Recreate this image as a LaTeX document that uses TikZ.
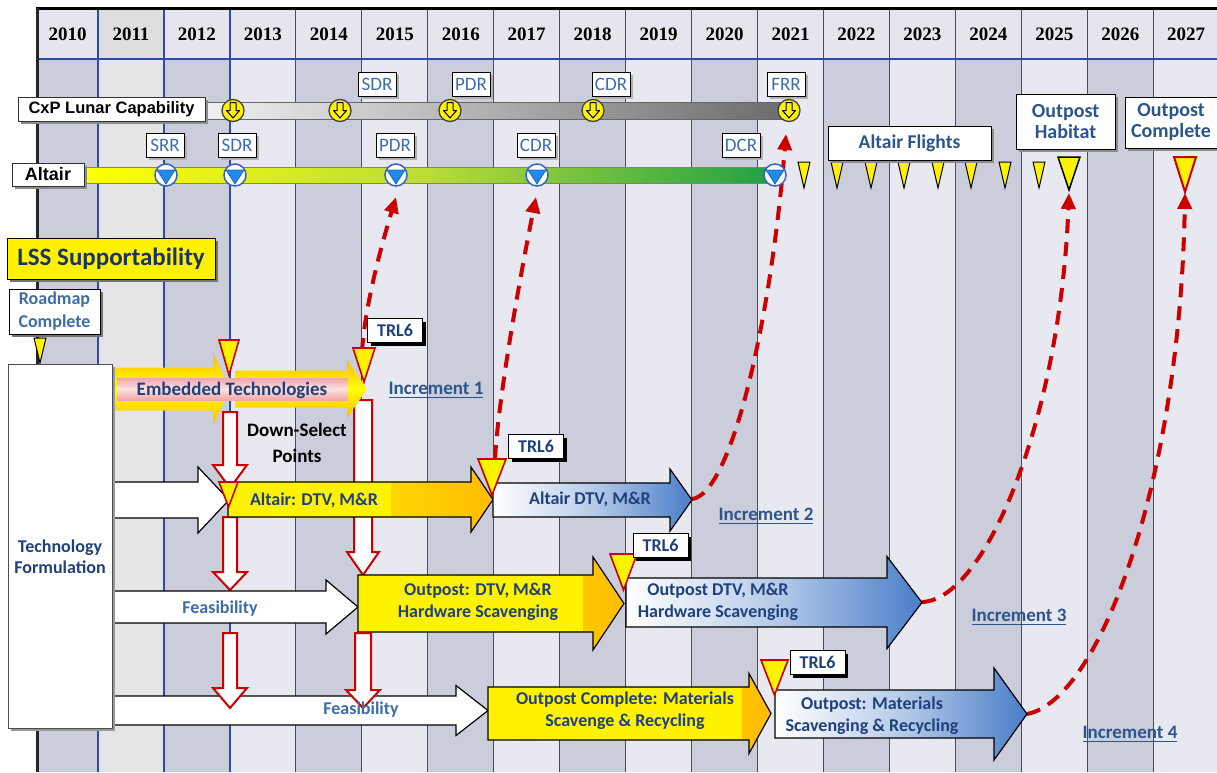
\documentclass[tikz,border=0pt]{standalone}
\usepackage{fontspec}
\setmainfont{Carlito}
\newfontfamily\yearfont{Liberation Serif}
\newfontfamily\arialfont{Liberation Sans}
\usetikzlibrary{arrows.meta}
\definecolor{coldark}{RGB}{203,205,218}
\definecolor{collight}{RGB}{232,233,240}
\definecolor{colgray}{RGB}{229,229,231}
\definecolor{hdr}{RGB}{229,230,237}
\definecolor{hdrgray}{RGB}{222,222,225}
\definecolor{gridblue}{RGB}{45,75,170}
\definecolor{txtblue}{RGB}{31,64,122}
\definecolor{msblue}{RGB}{62,108,168}
\definecolor{incblue}{RGB}{45,85,140}
\definecolor{navy}{RGB}{28,52,100}
\definecolor{orng}{RGB}{255,188,0}
\definecolor{bluend}{RGB}{74,126,200}
\definecolor{dred}{RGB}{204,0,0}
\definecolor{altgreen}{RGB}{30,160,70}
\definecolor{altmid}{RGB}{185,220,55}
\definecolor{pinkd}{RGB}{242,165,165}
\definecolor{pinkl}{RGB}{253,225,225}
\definecolor{mkblue}{RGB}{30,140,230}
\definecolor{mkedge}{RGB}{50,100,190}

\newcommand{\myrarrow}[7]{\path[#1] (#2,{#5-#6}) -- (#3,{#5-#6}) -- (#3,{#5-#7}) -- (#4,#5) -- (#3,{#5+#7}) -- (#3,{#5+#6}) -- (#2,{#5+#6}) -- cycle;}
\newcommand{\mydarrow}[6]{\path[downarr] ({#1-#5},#2) -- ({#1+#5},#2) -- ({#1+#5},#3) -- ({#1+#6},#3) -- (#1,#4) -- ({#1-#6},#3) -- ({#1-#5},#3) -- cycle;}
\newcommand{\mytri}[5]{\path[#5] ({#1-#3},#2) -- ({#1+#3},#2) -- (#1,#4) -- cycle;}

\begin{document}
\begin{tikzpicture}[x=1pt,y=-1pt,
  every node/.style={inner sep=0pt,outer sep=0pt},
  shadowed/.style={preaction={fill=#1,draw=none,transform canvas={xshift=3pt,yshift=-3pt}}},
  yearlbl/.style={font=\yearfont\bfseries\fontsize{19}{20}\selectfont},
  barlbl/.style={draw=black!80,line width=0.8pt,fill=white,shadowed=black!45,font=\arialfont\bfseries\fontsize{16.5}{18}\selectfont},
  msbox/.style={draw=black,line width=0.8pt,fill=white,text=msblue,font=\fontsize{19}{20}\selectfont,minimum width=38pt,minimum height=24pt,shadowed=black!30},
  trlbox/.style={draw=black,line width=1pt,fill=white,text=txtblue,font=\bfseries\fontsize{18}{20}\selectfont,minimum width=55pt,minimum height=24pt,shadowed=black},
  bigbox/.style={draw=black,line width=0.8pt,fill=white,text=incblue,font=\bfseries\fontsize{19.5}{21}\selectfont,align=center,shadowed=black!45},
  arrtxt/.style={text=txtblue,font=\bfseries\fontsize{18}{22}\selectfont,align=center},
  inctxt/.style={text=incblue,font=\bfseries\fontsize{19}{20}\selectfont},
  downarr/.style={fill=white,draw=dred,line width=2pt},
  redtri/.style={fill=yellow,draw=dred,line width=1.6pt},
  smalltri/.style={fill=yellow,draw=black,line width=1pt},
  dashcurve/.style={draw=dred,line width=4pt,dash pattern=on 14pt off 9pt,-{Triangle[width=14pt,length=16pt]}},
  whitearr/.style={fill=white,draw=black,line width=1.2pt},
  yelarr/.style={left color=yellow,right color=orng,draw=black,line width=1.2pt},
  bluearr/.style={left color=white,right color=bluend,middle color=bluend!40!white,draw=black,line width=1.2pt},
  embarr/.style={top color=orng,bottom color=orng,middle color=yellow},
  cxpmark/.pic={
    \path[fill=yellow,draw=black!75,line width=1.3pt] (0,0) circle (11pt);
    \path[fill=yellow,draw=black,line width=1pt,line join=round] (-3,-8) -- (3,-8) -- (3,0) -- (6.5,0) -- (0,7.5) -- (-6.5,0) -- (-3,0) -- cycle;},
  altmark/.pic={
    \path[fill=white,draw=mkedge,line width=1.5pt] (0,0) circle (11pt);
    \path[fill=mkblue,draw=mkedge,line width=0.8pt] (-9,-5) -- (9,-5) -- (0,9) -- cycle;}
]
\useasboundingbox (0,0) rectangle (1217,772);
\fill[white] (0,0) rectangle (1217,772);

% ---- columns
\fill[coldark] (37,59) rectangle (98,772);
\fill[colgray] (98,59) rectangle (163.95,772);
\foreach \k in {2,4,...,16} \fill[coldark] ({98+65.95*(\k-1)},59) rectangle ({98+65.95*\k},772);
\foreach \k in {3,5,...,17} \fill[collight] ({98+65.95*(\k-1)},59) rectangle ({min(98+65.95*\k,1217)},772);
\fill[hdr] (37,8) rectangle (1217,59);
\fill[hdrgray] (98,8) rectangle (163.95,59);
\foreach \k in {0,...,16} \draw[gridblue,line width=1.2pt] ({98+65.95*\k},8) -- ({98+65.95*\k},772);
\draw[gridblue,line width=1.2pt] (37,59) -- (1217,59);
\draw[black,line width=3pt] (35.5,8) -- (1217,8);
\draw[black!85,line width=3pt] (37,8) -- (37,772);

\node[yearlbl] (yr0) at (67.5,34) {2010};
\foreach \yr [count=\i] in {2011,...,2027} \node[yearlbl] (yr\i) at ({131+65.95*(\i-1)},34) {\yr};

% ---- dashed connectors
\coordinate (c1a) at (362,352); \coordinate (c1b) at (396,197);
\coordinate (c2a) at (495,459); \coordinate (c2b) at (536,197);
\coordinate (c3a) at (692,499); \coordinate (c3b) at (786,134);
\coordinate (c4a) at (922,602); \coordinate (c4b) at (1069,193);
\coordinate (c5a) at (1027,714); \coordinate (c5b) at (1185,193);
\draw[dashcurve] (c1a) .. controls +(3,-50) and +(-12,40) .. (c1b);
\draw[dashcurve] (c2a) .. controls +(4,-70) and +(-12,60) .. (c2b);
\draw[dashcurve] (c3a) .. controls +(38,-4) and +(-16,195) .. (c3b);
\draw[dashcurve] (c4a) .. controls +(63,-2) and +(-9,227) .. (c4b);
\draw[dashcurve] (c5a) .. controls +(73,-14) and +(-5,287) .. (c5b);

% ---- CxP row
\path[draw=black!60,line width=1pt,left color=black!6,right color=black!58] (205,102) rectangle (789,119);
\node[barlbl,minimum width=187pt,minimum height=24pt] (cxp) at (111.5,109) {CxP Lunar Capability};
\foreach \x [count=\i] in {233,340,450,593,789} \pic (cm\i) at (\x,110.5) {cxpmark};
\node[msbox] (cxsdr) at (377,84) {SDR};
\node[msbox] (cxpdr) at (471,84) {PDR};
\node[msbox] (cxcdr) at (611,84) {CDR};
\node[msbox] (cxfrr) at (786,84) {FRR};

% ---- Altair row
\path[draw=black!50,line width=1pt,left color=yellow,right color=altgreen,middle color=altmid] (84,167) rectangle (775,183);
\node[barlbl,minimum width=72pt,minimum height=23pt,font=\arialfont\bfseries\fontsize{18}{20}\selectfont] (alt) at (48,174.5) {Altair};
\foreach \x [count=\i] in {166,235,396,537,775} \pic (am\i) at (\x,175) {altmark};
\node[msbox] (asrr) at (165,145) {SRR};
\node[msbox] (asdr) at (237,145) {SDR};
\node[msbox] (apdr) at (395,145) {PDR};
\node[msbox] (acdr) at (536,145) {CDR};
\node[msbox] (adcr) at (741,145) {DCR};

\foreach \x in {804,837,871,904,938,971,1005,1039} {\mytri{\x}{162}{6}{188}{smalltri}}
\mytri{1069}{157}{11}{190}{smalltri,line width=1.5pt}
\mytri{1185}{157}{11}{192}{redtri,line width=2pt}
\node[bigbox,minimum width=163pt,minimum height=34pt] (flights) at (909.5,143) {Altair Flights};
\node[bigbox,minimum width=99pt,minimum height=55pt,font=\bfseries\fontsize{20}{21}\selectfont] (habitat) at (1065.5,121.5) {Outpost\\Habitat};
\node[bigbox,minimum width=92pt,minimum height=51pt,font=\bfseries\fontsize{20}{21}\selectfont] (complete) at (1171,122.5) {Outpost\\Complete};

% ---- LSS
\node[draw=black,line width=1pt,fill=yellow,shadowed=black!55,text=navy,font=\bfseries\fontsize{25}{26}\selectfont,minimum width=208pt,minimum height=41pt] (lss) at (111,258.5) {LSS Supportability};
\node[draw=black,line width=1pt,fill=white,shadowed=black!55,text=msblue,font=\bfseries\fontsize{18}{23}\selectfont,align=center,minimum width=91pt,minimum height=45pt] (roadmap) at (54.5,311.5) {Roadmap\\Complete};
\mytri{40}{338}{6}{363}{smalltri}

% ---- down-select arrows (upper)
\mydarrow{230}{412}{465}{488}{7}{17}
\mydarrow{230}{517}{572}{590}{7}{17}
\mydarrow{363}{400}{552}{575}{9}{16}

% ---- row 1
\myrarrow{embarr}{113}{213}{230}{389}{21.5}{36}
\myrarrow{embarr}{235}{347}{367}{389}{18.5}{29}
\path[top color=pinkd,bottom color=pinkd,middle color=pinkl] (117,378) rectangle (348,400);
\node[arrtxt,font=\bfseries\fontsize{19}{20}\selectfont] (embtxt) at (232,390) {Embedded Technologies};

% ---- row 2
\myrarrow{whitearr}{113}{198}{229}{500}{18}{33}
\myrarrow{yelarr}{228}{471}{493}{499.5}{17.5}{32.5}
\fill[yellow] (229,483) rectangle (391,516);
\myrarrow{bluearr}{493}{670}{692}{500}{17}{31}
\node[arrtxt] (t2a) at (314,500) {Altair: DTV, M\&R};
\node[arrtxt] (t2b) at (590,499) {Altair DTV, M\&R};

% ---- row 3
\myrarrow{whitearr}{113}{326}{358}{607}{16}{27}
\myrarrow{yelarr}{358}{593}{624}{603.5}{28.5}{46.5}
\fill[yellow] (359,576) rectangle (583,631);
\myrarrow{bluearr}{626}{887}{922}{602.5}{24.5}{46}
\node[arrtxt,text=msblue] (t3a) at (220,609) {Feasibility};
\node[arrtxt] (t3b) at (478,602) {Outpost: DTV, M\&R\\Hardware Scavenging};
\node[arrtxt] (t3c) at (718,602) {Outpost DTV, M\&R\\Hardware Scavenging};

% ---- row 4
\myrarrow{whitearr}{113}{456}{488}{710.5}{14.5}{25}
\mydarrow{230}{633}{688}{708}{7}{17}
\mydarrow{363}{633}{690}{708}{8}{17}
\myrarrow{yelarr}{488}{749}{771}{713.5}{26.5}{40}
\fill[yellow] (489,688) rectangle (742,739);
\myrarrow{bluearr}{775}{994}{1027}{714}{24}{46}
\node[arrtxt,text=msblue] (t4a) at (361,710) {Feasibility};
\node[arrtxt] (t4b) at (625,711) {Outpost Complete: Materials\\Scavenge \& Recycling};
\node[arrtxt] (t4c) at (872,716) {Outpost: Materials\\Scavenging \& Recycling};

% ---- technology formulation
\node[draw=black!70,line width=1pt,fill=white,shadowed=black!40,minimum width=104pt,minimum height=364pt] (techbox) at (60,546) {};
\node[text=txtblue,font=\bfseries\fontsize{18}{21}\selectfont,align=center] (techtxt) at (60,557) {Technology\\Formulation};

\node[font=\bfseries\fontsize{19}{26}\selectfont,align=center] (dsp) at (297,443) {Down-Select\\Points};

% ---- increments
\node[inctxt] (inc1) at (436,388) {Increment 1};
\node[inctxt] (inc2) at (766,514) {Increment 2};
\node[inctxt] (inc3) at (1019,615) {Increment 3};
\node[inctxt] (inc4) at (1130,732) {Increment 4};
\foreach \n in {inc1,inc2,inc3,inc4} \draw[incblue,line width=1.2pt] ([yshift=-3pt]\n.south west) -- ([yshift=-3pt]\n.south east);

% ---- TRL6 markers
\mytri{229}{340}{10}{375}{redtri}
\mytri{364}{348}{11}{382}{redtri}
\mytri{228.5}{482}{9.5}{507}{redtri}
\mytri{492}{459}{14}{495}{redtri}
\mytri{623.5}{554}{13.5}{590}{redtri}
\mytri{774.5}{660}{13.5}{695}{redtri}
\node[trlbox] (trl1) at (395,330.5) {TRL6};
\node[trlbox] (trl2) at (536,446.5) {TRL6};
\node[trlbox] (trl3) at (660.5,545.5) {TRL6};
\node[trlbox] (trl4) at (817.5,662.5) {TRL6};
\end{tikzpicture}
\end{document}
